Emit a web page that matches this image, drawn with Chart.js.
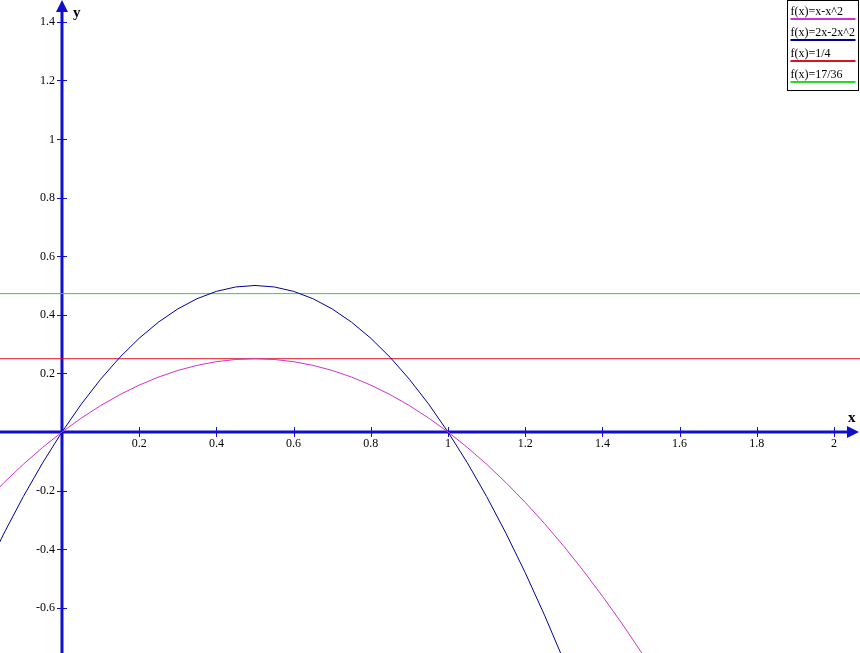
<!DOCTYPE html>
<html>
<head>
<meta charset="utf-8">
<script src="https://cdn.jsdelivr.net/npm/chart.js@4.4.0/dist/chart.umd.min.js"></script>
<style>
  html, body { margin: 0; padding: 0; background: #fff; }
  #wrap { width: 860px; height: 653px; }
</style>
</head>
<body>
<div id="wrap"><canvas id="mycanvas" width="860" height="653"></canvas></div>
<script>
// sample points
var xs = [-0.2, -0.15, -0.1, -0.05, 0, 0.05, 0.1, 0.15, 0.2, 0.25, 0.3, 0.35, 0.4, 0.45, 0.5,
          0.55, 0.6, 0.65, 0.7, 0.75, 0.8, 0.85, 0.9, 0.95, 1.0, 1.05, 1.1, 1.15, 1.2, 1.25,
          1.3, 1.35, 1.4, 1.45, 1.5, 1.55, 1.6];
var magentaY = [-0.24, -0.1725, -0.11, -0.0525, 0, 0.0475, 0.09, 0.1275, 0.16, 0.1875, 0.21, 0.2275, 0.24, 0.2475, 0.25,
                0.2475, 0.24, 0.2275, 0.21, 0.1875, 0.16, 0.1275, 0.09, 0.0475, 0, -0.0525, -0.11, -0.1725, -0.24, -0.3125,
                -0.39, -0.4725, -0.56, -0.6525, -0.75, -0.8525, -0.96];
var blueY = [-0.48, -0.345, -0.22, -0.105, 0, 0.095, 0.18, 0.255, 0.32, 0.375, 0.42, 0.455, 0.48, 0.495, 0.5,
             0.495, 0.48, 0.455, 0.42, 0.375, 0.32, 0.255, 0.18, 0.095, 0, -0.105, -0.22, -0.345, -0.48, -0.625,
             -0.78, -0.945];
var lineX = [-0.2, 2.1];
var redY = [0.25, 0.25];
var greenY = [0.4722, 0.4722];

var labels = ['f(x)=x-x^2', 'f(x)=2x-2x^2', 'f(x)=1/4', 'f(x)=17/36'];
var colors = ['#cc33cc', '#000099', '#dd1122', '#22dd22'];

var xTicks = [0.2, 0.4, 0.6, 0.8, 1, 1.2, 1.4, 1.6, 1.8, 2];
var yTicks = [-0.6, -0.4, -0.2, 0.2, 0.4, 0.6, 0.8, 1, 1.2, 1.4];

function pts(x, y) {
    var out = [];
    for (var i = 0; i < y.length; i++) out.push({x: x[i], y: y[i]});
    return out;
}

var axisColor = '#1010cc';
var font = '12px "Liberation Serif", "DejaVu Serif", serif';

// axes through the origin, with arrows, ticks and labels
var axesPlugin = {
    id: 'originAxes',
    beforeDatasetsDraw: function(chart) {
        var c = chart.ctx, xs_ = chart.scales.x, ys_ = chart.scales.y;
        var a = chart.chartArea;
        var x0 = xs_.getPixelForValue(0), y0 = ys_.getPixelForValue(0);
        c.save();
        c.strokeStyle = axisColor;
        c.fillStyle = axisColor;
        c.lineWidth = 3;
        c.beginPath();
        c.moveTo(a.left, y0); c.lineTo(a.right - 8, y0);
        c.moveTo(x0, a.bottom); c.lineTo(x0, a.top + 8);
        c.stroke();
        // arrows
        c.beginPath();
        c.moveTo(a.right - 1, y0); c.lineTo(a.right - 13, y0 - 6); c.lineTo(a.right - 13, y0 + 6); c.closePath();
        c.fill();
        c.beginPath();
        c.moveTo(x0, a.top); c.lineTo(x0 - 6, a.top + 12); c.lineTo(x0 + 6, a.top + 12); c.closePath();
        c.fill();
        // ticks
        c.lineWidth = 1;
        c.beginPath();
        xTicks.forEach(function(v) {
            var p = Math.round(xs_.getPixelForValue(v)) + 0.5;
            c.moveTo(p, y0 - 5); c.lineTo(p, y0 + 5);
        });
        yTicks.forEach(function(v) {
            var p = Math.round(ys_.getPixelForValue(v)) + 0.5;
            c.moveTo(x0 - 5, p); c.lineTo(x0 + 5, p);
        });
        c.stroke();
        // labels
        c.fillStyle = '#000';
        c.font = font;
        c.textAlign = 'center';
        c.textBaseline = 'top';
        xTicks.forEach(function(v) {
            c.fillText(String(v), xs_.getPixelForValue(v), y0 + 6);
        });
        c.textAlign = 'right';
        c.textBaseline = 'middle';
        yTicks.forEach(function(v) {
            c.fillText(String(v), x0 - 7, ys_.getPixelForValue(v) + 0.5);
        });
        c.font = 'bold 15px "Liberation Serif", serif';
        c.textAlign = 'left';
        c.textBaseline = 'alphabetic';
        c.fillText('x', a.right - 12, y0 - 10);
        c.fillText('y', x0 + 11, a.top + 17);
        c.restore();
    },
    afterDraw: function(chart) {
        // legend box top right
        var c = chart.ctx;
        var bx = 787.5, by = 0.5, bw = 71, bh = 90;
        c.save();
        c.fillStyle = '#fff';
        c.fillRect(bx, by, bw, bh);
        c.strokeStyle = '#000';
        c.lineWidth = 1;
        c.strokeRect(bx, by, bw, bh);
        c.font = font;
        c.textAlign = 'left';
        c.textBaseline = 'alphabetic';
        chart.data.datasets.forEach(function(ds, i) {
            var ty = 15 + i * 21;
            c.fillStyle = '#000';
            c.fillText(ds.label, bx + 3, ty);
            c.strokeStyle = ds.borderColor;
            c.lineWidth = 2;
            c.beginPath();
            c.moveTo(bx + 3, ty + 4); c.lineTo(bx + bw - 3, ty + 4);
            c.stroke();
        });
        c.restore();
    }
};

var ctx = document.getElementById('mycanvas');
var chart = new Chart(ctx, {
    type: 'scatter',
    data: {
        datasets: [
            { label: labels[0], data: pts(xs, magentaY), borderColor: colors[0] },
            { label: labels[1], data: pts(xs, blueY), borderColor: colors[1] },
            { label: labels[2], data: pts(lineX, redY), borderColor: colors[2] },
            { label: labels[3], data: pts(lineX, greenY), borderColor: colors[3] }
        ].map(function(d) {
            d.showLine = true;
            d.borderWidth = 1;
            d.pointRadius = 0;
            d.fill = false;
            return d;
        })
    },
    options: {
        responsive: false,
        animation: false,
        layout: { padding: 0 },
        plugins: { legend: { display: false }, tooltip: { enabled: false } },
        scales: {
            x: { type: 'linear', min: -0.1606, max: 2.0674, display: false },
            y: { type: 'linear', min: -0.7543, max: 1.4744, display: false }
        }
    },
    plugins: [axesPlugin]
});
</script>
</body>
</html>
